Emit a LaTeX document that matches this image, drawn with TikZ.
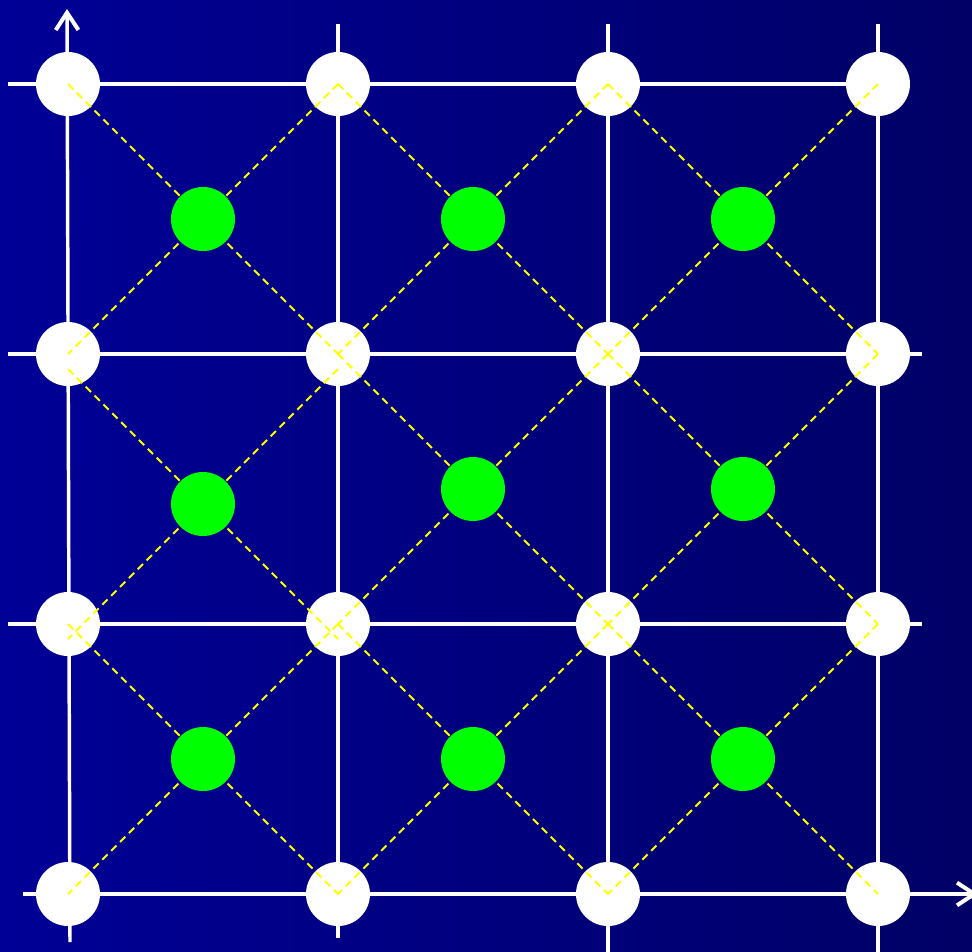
\documentclass[tikz,border=0pt]{standalone}
\usetikzlibrary{arrows.meta}
\definecolor{bgleft}{RGB}{0,0,150}
\definecolor{bgright}{RGB}{0,0,102}
\definecolor{lime}{RGB}{0,255,0}
\definecolor{dashyellow}{RGB}{255,255,0}
\begin{document}
\begin{tikzpicture}[x=0.75pt,y=-0.75pt,
  wline/.style={white, line width=2.6pt},
  ddash/.style={dashyellow, line width=1.5pt, dash pattern=on 5.6pt off 3.8pt},
  wdot/.style={circle, fill=white, minimum size=48pt, inner sep=0pt},
  gdot/.style={circle, fill=lime, minimum size=48pt, inner sep=0pt},
  axarrow/.style={-{Straight Barb[length=13pt,width=17pt,line width=3pt]}}]
\shade[left color=bgleft,right color=bgright] (0,0) rectangle (972,951);
\useasboundingbox (0,0) rectangle (972,951);
\clip (0,0) rectangle (972,951);

% grid points
\foreach \i/\x in {1/68,2/338,3/608,4/878}
  \foreach \j/\y in {1/84,2/354,3/624,4/894}
    \coordinate (c\i\j) at (\x,\y);

% free ends of the white lines
\coordinate (h1s) at (8,84);
\coordinate (h2s) at (8,354);   \coordinate (h2e) at (922,354);
\coordinate (h3s) at (8,624);   \coordinate (h3e) at (922,624);
\coordinate (h4s) at (23,894);  \coordinate (h4e) at (978,894);
\coordinate (v1s) at (70,942);  \coordinate (v1e) at (67,9);
\coordinate (v2s) at (338,24);  \coordinate (v2e) at (338,938);
\coordinate (v3s) at (608,24);  \coordinate (v3e) at (608,955);
\coordinate (v4s) at (878,24);  \coordinate (v4e) at (878,955);

% white grid lines
\draw[wline] (h1s) -- (c41);
\draw[wline] (h2s) -- (h2e);
\draw[wline] (h3s) -- (h3e);
\draw[wline,axarrow] (h4s) -- (h4e);
\draw[wline,axarrow] (v1s) -- (v1e);
\draw[wline] (v2s) -- (v2e);
\draw[wline] (v3s) -- (v3e);
\draw[wline] (v4s) -- (v4e);

% white lattice points
\foreach \i in {1,...,4}
  \foreach \j in {1,...,4}
    \node[wdot] (w\i\j) at (c\i\j) {};

% shifted corners for the off-centre cell
\coordinate (d1) at (68,369);
\coordinate (d2) at (338,369);
\coordinate (d3) at (68,639);
\coordinate (d4) at (338,639);

% yellow dashed diagonals
\foreach \a/\b in {c11/c22, c21/c12, c21/c32, c31/c22, c31/c42, c41/c32,
                   d1/d4, d2/d3, c22/c33, c32/c23, c32/c43, c42/c33,
                   c13/c24, c23/c14, c23/c34, c33/c24, c33/c44, c43/c34}
  \draw[ddash] (\a) -- (\b);

% green points
\node[gdot] (g11) at (203,219) {};
\node[gdot] (g21) at (473,219) {};
\node[gdot] (g31) at (743,219) {};
\node[gdot] (g12) at (203,504) {};
\node[gdot] (g22) at (473,489) {};
\node[gdot] (g32) at (743,489) {};
\node[gdot] (g13) at (203,759) {};
\node[gdot] (g23) at (473,759) {};
\node[gdot] (g33) at (743,759) {};
\end{tikzpicture}
\end{document}
